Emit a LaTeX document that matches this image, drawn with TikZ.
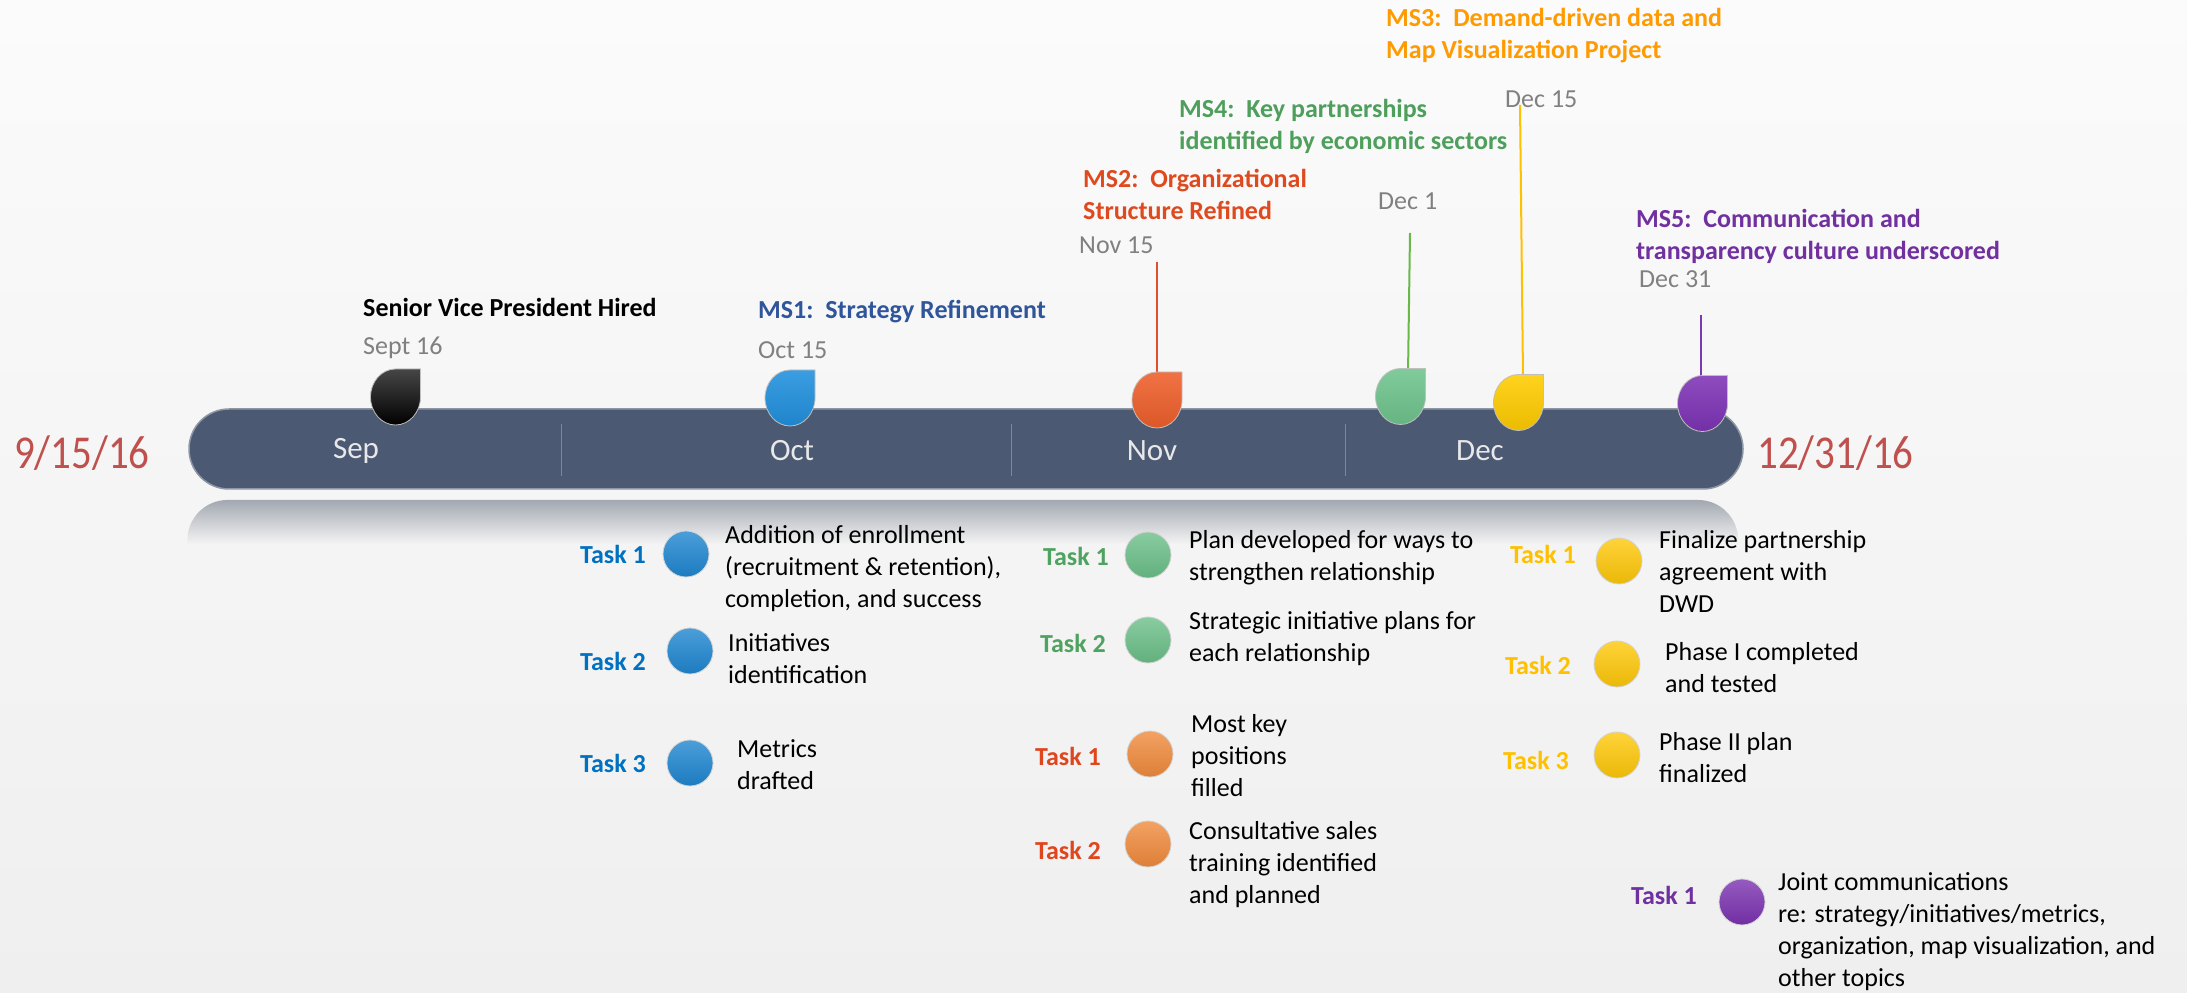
\documentclass[tikz,border=0pt]{standalone}
\usepackage{fontspec}
\setmainfont{Carlito}
\usetikzlibrary{shapes.geometric,fadings}
\definecolor{bgtop}{HTML}{FBFBFB}
\definecolor{bgbot}{HTML}{EFEFEF}
\definecolor{barc}{HTML}{4B5A72}
\definecolor{barline}{HTML}{8E97A4}
\definecolor{divc}{HTML}{7D889A}
\definecolor{refc}{HTML}{A3A8B1}
\definecolor{monthc}{HTML}{E8E8EA}
\definecolor{dategray}{HTML}{808080}
\definecolor{endred}{HTML}{C0504D}
\definecolor{msblue}{HTML}{2F559B}
\definecolor{msred}{HTML}{DE4A1E}
\definecolor{msorange}{HTML}{FF9A00}
\definecolor{msgreen}{HTML}{4E9F5C}
\definecolor{mspurple}{HTML}{7030A0}
\definecolor{tblue}{HTML}{0070C0}
\definecolor{tgreen}{HTML}{4FA25F}
\definecolor{tred}{HTML}{E0461E}
\definecolor{tyellow}{HTML}{FFC000}
\definecolor{tpurple}{HTML}{7030A0}
\definecolor{cblue}{HTML}{1E86D0}
\definecolor{cgreen}{HTML}{6BBF88}
\definecolor{corange}{HTML}{F08A3C}
\definecolor{cyellow}{HTML}{FFC808}
\definecolor{cpurple}{HTML}{7B32B0}
\definecolor{mblue}{HTML}{2190DD}
\definecolor{morange}{HTML}{EE5F2B}
\definecolor{mgreen}{HTML}{6FC48D}
\definecolor{myellow}{HTML}{FFCC00}
\definecolor{mpurple}{HTML}{7E33B5}
\definecolor{lorange}{HTML}{E0502A}
\definecolor{lgreen}{HTML}{6AB84A}
\definecolor{lyellow}{HTML}{FFC000}
\definecolor{lpurple}{HTML}{7A3AB0}
\tikzset{
  msmark/.pic={
    \path[pic actions] (25,0) arc[start angle=0,end angle=-180,x radius=25,y radius=28]
      arc[start angle=180,end angle=90,x radius=25,y radius=28] -- (25,28) -- cycle;
    \coordinate (-top) at (0,28);
  },
  txtbase/.style={inner sep=0pt, align=left, anchor=west, font=\fontsize{26}{32}\selectfont},
  ttl/.style={txtbase, font=\bfseries\fontsize{26}{32}\selectfont},
  dte/.style={txtbase, text=dategray},
  tsk/.style={txtbase, font=\bfseries\fontsize{26}{32}\selectfont},
  body/.style={txtbase, text=black},
  month/.style={inner sep=0pt, text=monthc, font=\fontsize{31}{36}\selectfont},
  enddate/.style={inner sep=0pt, anchor=west, text=endred, font=\fontsize{41}{48}\selectfont, yscale=1.15, transform shape},
  tcirc/.style={circle, minimum size=46pt, inner sep=0pt, draw=gray!35, line width=0.8pt, top color=#1!80!white, bottom color=#1!92!black},
  mline/.style={line width=2pt},
  mkstyle/.style={top color=#1!88!white, bottom color=#1!92!black, draw=gray!50, line width=0.8pt},
}
\begin{document}
\begin{tikzpicture}[x=1pt,y=1pt]
\useasboundingbox (0,0) rectangle (2187,993);
\shade[top color=bgtop, bottom color=bgbot] (0,0) rectangle (2187,993);

% reflection
\fill[refc, path fading=south] (189,449) -- (189,453) arc[start angle=180,end angle=90,radius=40]
  -- (1703,493) arc[start angle=90,end angle=0,radius=40] -- (1743,449) -- cycle;
% bar
\draw[fill=barc, draw=barline, line width=1.5pt, rounded corners=40pt] (189,504) rectangle (1743,584);
\foreach \dx in {561,1011,1345} \draw[divc, line width=1pt] (\dx,517) -- (\dx,569);

\node[month] (msep) at (356,542) {Sep};
\node[month] (moct) at (792,542) {Oct};
\node[month] (mnov) at (1152,542) {Nov};
\node[month] (mdec) at (1480,542) {Dec};

\node[enddate] (dstart) at (14,540) {9/15/16};
\node[enddate] (dend) at (1757,540) {12/31/16};

% milestone labels
\node[ttl, text=black] (svp) at (363,686) {Senior Vice President Hired};
\node[dte] (svpd) at (363,645) {Sept 16};
\node[ttl, text=msblue] (ms1) at (758,681) {MS1:\ \ Strategy Refinement};
\node[dte] (ms1d) at (758,643) {Oct 15};
\node[ttl, text=msred] (ms2) at (1083,799) {MS2:\ \ Organizational\\Structure Refined};
\node[dte] (ms2d) at (1079,748) {Nov 15};
\node[ttl, text=msgreen] (ms4) at (1179,866.5) {MS4:\ \ Key partnerships\\identified by economic sectors};
\node[dte] (ms4d) at (1378,792) {Dec 1};
\node[ttl, text=msorange] (ms3) at (1386,957.5) {MS3:\ \ Demand-driven data and\\Map Visualization Project};
\node[dte] (ms3d) at (1505,894) {Dec 15};
\node[ttl, text=mspurple] (ms5) at (1636,757) {MS5:\ \ Communication and\\transparency culture underscored};
\node[dte] (ms5d) at (1639,714) {Dec 31};

% connector lines
\coordinate (l2a) at (1157,731); \coordinate (l2b) at (1157,621);
\coordinate (l4a) at (1410,760); \coordinate (l4b) at (1408,619);
\coordinate (l3a) at (1520,888); \coordinate (l3b) at (1523,616);
\coordinate (l5a) at (1701,678); \coordinate (l5b) at (1701,617);
\draw[mline, lorange] (l2a) -- (l2b);
\draw[mline, lgreen] (l4a) -- (l4b);
\draw[mline, lyellow] (l3a) -- (l3b);
\draw[mline, lpurple] (l5a) -- (l5b);

% markers
\pic[top color=gray!55!black, bottom color=black, draw=gray!50, line width=0.8pt] (mk0) at (395.5,596) {msmark};
\pic[mkstyle=mblue] (mk1) at (790,595) {msmark};
\pic[mkstyle=morange] (mk2) at (1157,593) {msmark};
\pic[mkstyle=mgreen] (mk4) at (1400.5,596.5) {msmark};
\pic[mkstyle=myellow] (mk3) at (1518.5,590.5) {msmark};
\pic[mkstyle=mpurple] (mk5) at (1702.5,589.5) {msmark};

% blue tasks
\node[tsk, text=tblue] (bt1) at (580,439) {Task 1};
\node[tcirc=cblue] (bc1) at (686,439) {};
\node[body] (bx1) at (725,424) {Addition of enrollment\\(recruitment \& retention),\\completion, and success};
\node[tsk, text=tblue] (bt2) at (580,332) {Task 2};
\node[tcirc=cblue] (bc2) at (690,342) {};
\node[body] (bx2) at (728,334) {Initiatives\\identification};
\node[tsk, text=tblue] (bt3) at (580,230) {Task 3};
\node[tcirc=cblue] (bc3) at (690,230) {};
\node[body] (bx3) at (737,228) {Metrics\\drafted};

% green tasks
\node[tsk, text=tgreen] (gt1) at (1043,437) {Task 1};
\node[tcirc=cgreen] (gc1) at (1148,438) {};
\node[body] (gx1) at (1189,435.5) {Plan developed for ways to\\strengthen relationship};
\node[tsk, text=tgreen] (gt2) at (1040,350) {Task 2};
\node[tcirc=cgreen] (gc2) at (1148,353) {};
\node[body] (gx2) at (1189,354.5) {Strategic initiative plans for\\each relationship};

% orange tasks
\node[tsk, text=tred] (ot1) at (1035,237) {Task 1};
\node[tcirc=corange] (oc1) at (1150,239) {};
\node[body] (ox1) at (1191,237) {Most key\\positions\\filled};
\node[tsk, text=tred] (ot2) at (1035,143) {Task 2};
\node[tcirc=corange] (oc2) at (1148,149) {};
\node[body] (ox2) at (1189,128.5) {Consultative sales\\training identified\\and planned};

% yellow tasks
\node[tsk, text=tyellow] (yt1) at (1510,439) {Task 1};
\node[tcirc=cyellow] (yc1) at (1619,432) {};
\node[body] (yx1) at (1659,422) {Finalize partnership\\agreement with\\DWD};
\node[tsk, text=tyellow] (yt2) at (1505,328) {Task 2};
\node[tcirc=cyellow] (yc2) at (1617,329) {};
\node[body] (yx2) at (1665,325.5) {Phase I completed\\and tested};
\node[tsk, text=tyellow] (yt3) at (1503,233) {Task 3};
\node[tcirc=cyellow] (yc3) at (1617,238) {};
\node[body] (yx3) at (1659,235.5) {Phase II plan\\finalized};

% purple task
\node[tsk, text=tpurple] (pt1) at (1631,98) {Task 1};
\node[tcirc=cpurple] (pc1) at (1742,91) {};
\node[body] (px1) at (1778,61) {Joint communications\\re: strategy/initiatives/metrics,\\organization, map visualization, and\\other topics};
\end{tikzpicture}
\end{document}
